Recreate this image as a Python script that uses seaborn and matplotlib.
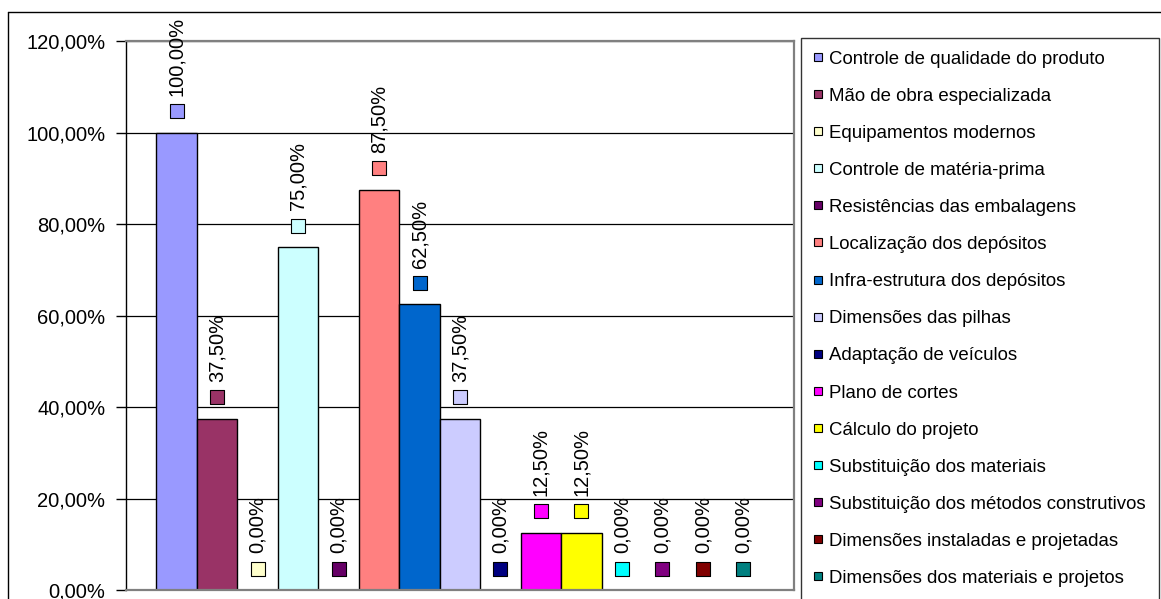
import matplotlib
matplotlib.use("Agg")
import matplotlib.pyplot as plt
from matplotlib.patches import Patch
from matplotlib.lines import Line2D
from matplotlib.ticker import FuncFormatter, FixedLocator
import seaborn as sns
import pandas as pd

categorias = [
    "Controle de qualidade do produto",
    "Mão de obra especializada",
    "Equipamentos modernos",
    "Controle de matéria-prima",
    "Resistências das embalagens",
    "Localização dos depósitos",
    "Infra-estrutura dos depósitos",
    "Dimensões das pilhas",
    "Adaptação de veículos",
    "Plano de cortes",
    "Cálculo do projeto",
    "Substituição dos materiais",
    "Substituição dos métodos construtivos",
    "Dimensões instaladas e projetadas",
    "Dimensões dos materiais e projetos",
]
valores = [100.0, 37.5, 0.0, 75.0, 0.0, 87.5, 62.5, 37.5, 0.0, 12.5, 12.5, 0.0, 0.0, 0.0, 0.0]
cores = ["#9999FF", "#993366", "#FFFFCC", "#CCFFFF", "#660066", "#FF8080", "#0066CC",
         "#CCCCFF", "#000080", "#FF00FF", "#FFFF00", "#00FFFF", "#800080", "#800000", "#008080"]
y_ticks = [0, 20, 40, 60, 80, 100, 120]

sns.set_theme(style="white")
plt.rcParams["font.family"] = ["Liberation Sans", "DejaVu Sans"]
plt.rcParams["text.color"] = "black"
plt.rcParams["axes.labelcolor"] = "black"
plt.rcParams["ytick.color"] = "black"

W, H = 1161, 599
fig = plt.figure(figsize=(W / 100, H / 100), dpi=100)
fig.patch.set_facecolor("white")

ax = fig.add_axes([126 / W, (H - 590) / H, (794 - 126) / W, (590 - 41.3) / H])

df = pd.DataFrame({"grupo": [""] * len(categorias), "valor": valores, "categoria": categorias})
sns.barplot(data=df, x="grupo", y="valor", hue="categoria", hue_order=categorias,
            palette=cores, saturation=1, width=0.909, edgecolor="black", linewidth=1,
            legend=False, ax=ax, errorbar=None, zorder=2)

ax.set_xlim(-0.5, 0.5)
ax.set_ylim(0, 120)
ax.yaxis.set_major_locator(FixedLocator(y_ticks))
ax.yaxis.set_major_formatter(FuncFormatter(lambda v, p: f"{v:.2f}".replace(".", ",") + "%"))
ax.set_xticks([])
ax.set_xlabel("")
ax.set_ylabel("")
ax.yaxis.grid(True, color="black", linewidth=0.9)
ax.set_axisbelow(True)
ax.tick_params(axis="y", direction="out", length=7, width=1, pad=8, labelsize=14.5,
               colors="black", left=True)
for s in ["top", "right", "bottom"]:
    ax.spines[s].set_color("#808080")
    ax.spines[s].set_linewidth(1.6)
ax.spines["left"].set_color("black")
ax.spines["left"].set_linewidth(1)

bars = sorted([p for p in ax.patches], key=lambda p: p.get_x())
for p, v, c in zip(bars, valores, cores):
    xc = p.get_x() + p.get_width() / 2
    ax.scatter([xc], [v + 4.7], marker="s", s=100, color=c, edgecolors="black",
               linewidths=0.8, zorder=4, clip_on=False)
    ax.text(xc, v + 8, f"{v:.2f}".replace(".", ",") + "%", rotation=90, ha="center",
            va="bottom", fontsize=14.5, color="black", clip_on=False, zorder=5)

handles = [Patch(facecolor=c, edgecolor="black", linewidth=0.8) for c in cores]
leg = fig.legend(handles, categorias, loc="upper left",
                 bbox_to_anchor=(801 / W, 1 - 38 / H), bbox_transform=fig.transFigure,
                 borderaxespad=0, frameon=True, fancybox=False, edgecolor="black",
                 fontsize=13.4, handlelength=0.43, handleheight=0.285, handletextpad=0.42,
                 borderpad=0.68, labelspacing=1.08)
leg.get_frame().set_linewidth(1)
leg.get_frame().set_facecolor("white")
for t in leg.get_texts():
    t.set_color("black")

fig.add_artist(Line2D([7.5 / W, 7.5 / W], [0, 1 - 12 / H], transform=fig.transFigure,
                      color="black", linewidth=1))
fig.add_artist(Line2D([7.5 / W, 1], [1 - 12 / H, 1 - 12 / H], transform=fig.transFigure,
                      color="black", linewidth=1))

fig.savefig("out.png", dpi=100, facecolor="white")
